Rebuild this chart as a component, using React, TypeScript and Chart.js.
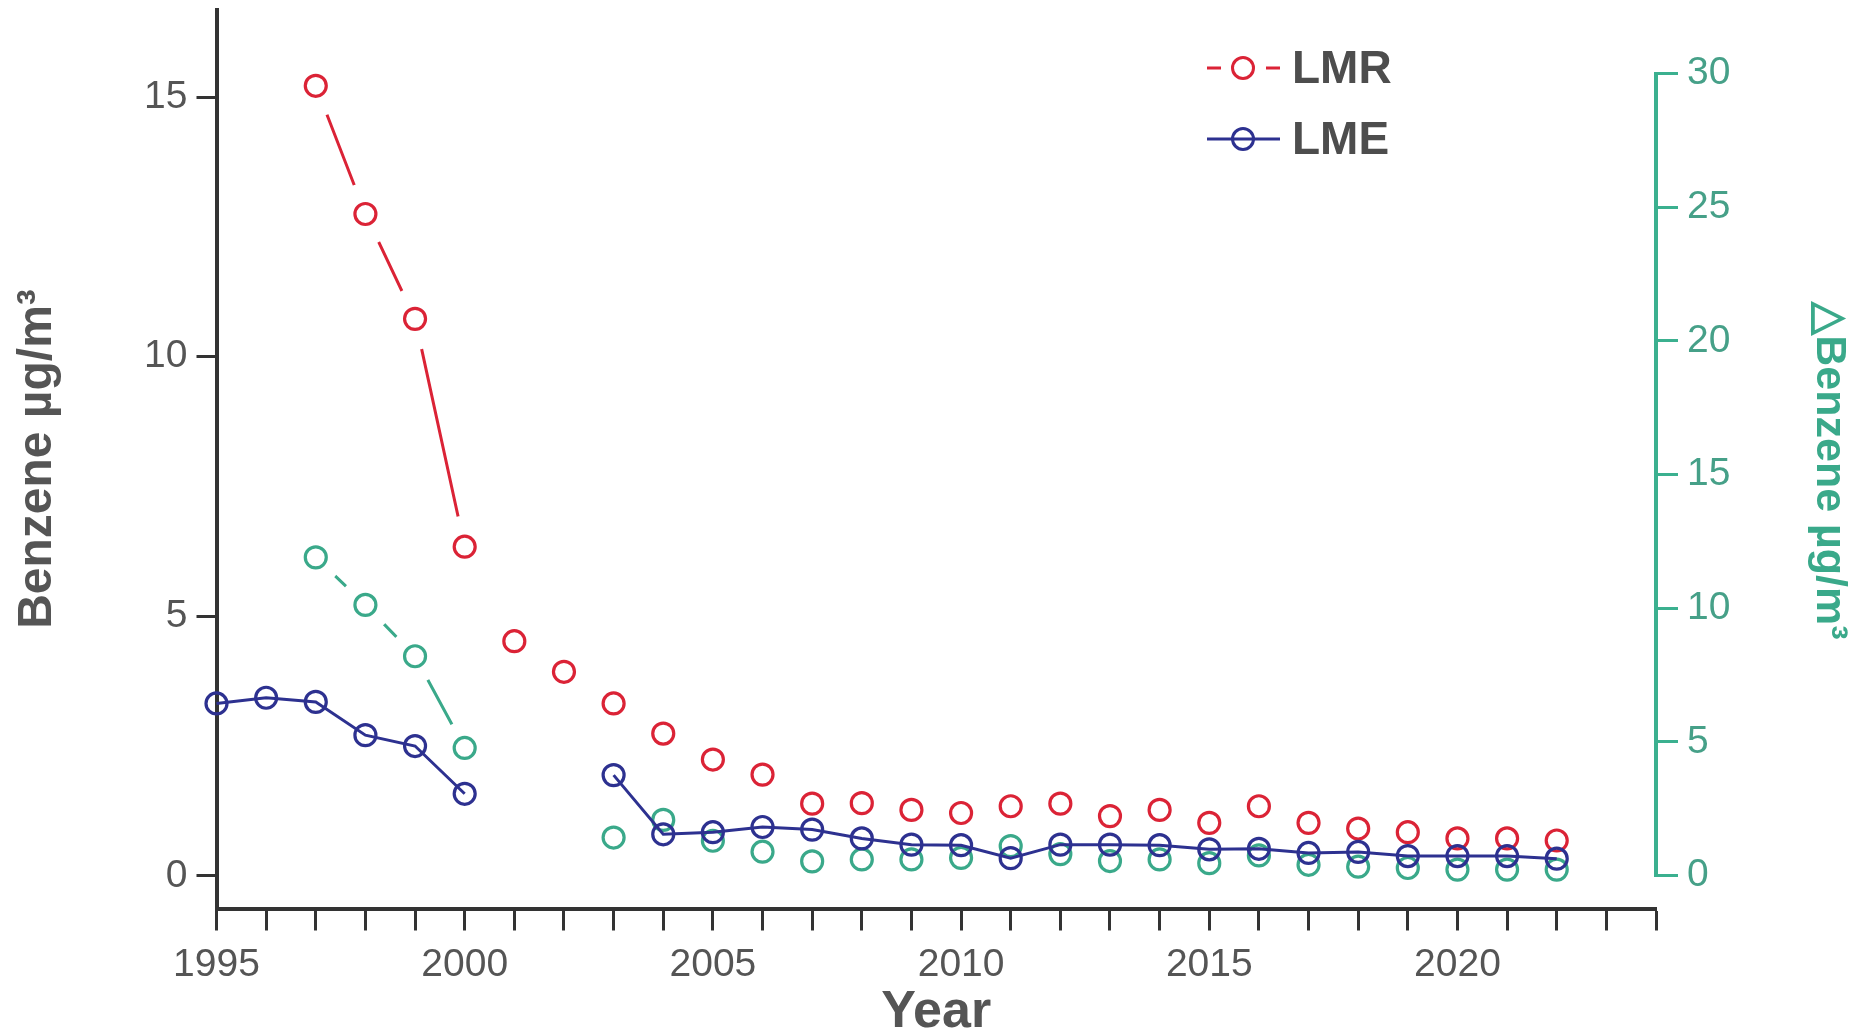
import React, { useEffect, useRef } from 'react';
import { Chart, registerables } from 'chart.js';

Chart.register(...registerables);

// ---- data ----
const years = [1995, 1996, 1997, 1998, 1999, 2000, 2001, 2002, 2003, 2004, 2005, 2006, 2007, 2008,
  2009, 2010, 2011, 2012, 2013, 2014, 2015, 2016, 2017, 2018, 2019, 2020, 2021, 2022];

const lmr = [null, null, 15.22, 12.75, 10.73, 6.34, 4.52, 3.93, 3.32, 2.74, 2.24, 1.95, 1.39, 1.40,
  1.27, 1.21, 1.34, 1.39, 1.15, 1.27, 1.02, 1.34, 1.02, 0.91, 0.84, 0.72, 0.72, 0.68];

const lme = [3.32, 3.43, 3.35, 2.71, 2.50, 1.58, null, null, 1.94, 0.80, 0.84, 0.94, 0.89, 0.72,
  0.60, 0.59, 0.34, 0.60, 0.60, 0.59, 0.51, 0.52, 0.44, 0.46, 0.38, 0.38, 0.38, 0.33];

const deltaBenzene = [null, null, 11.9, 10.12, 8.2, 4.77, null, null, 1.42, 2.08, 1.3, 0.89, 0.53, 0.6,
  0.6, 0.66, 1.1, 0.8, 0.54, 0.6, 0.46, 0.75, 0.4, 0.33, 0.28, 0.22, 0.22, 0.22];

const xLabelYears = [1995, 2000, 2005, 2010, 2015, 2020];
const xTickYears = [1995, 1996, 1997, 1998, 1999, 2000, 2001, 2002, 2003, 2004, 2005, 2006, 2007, 2008,
  2009, 2010, 2011, 2012, 2013, 2014, 2015, 2016, 2017, 2018, 2019, 2020, 2021, 2022, 2023, 2024];
const leftTicks = [0, 5, 10, 15];
const rightTicks = [0, 5, 10, 15, 20, 25, 30];
const lineUntilYear = 2000; // LMR and ΔBenzene joined only up to here

// ---- style ----
const RED = '#db2336';
const BLUE = '#2d3190';
const GREEN = '#3aa98a';
const TEAL_AXIS = '#3bb08f';
const TEAL_TEXT = '#46a088';
const AXIS = '#333333';
const TEXT = '#555555';
const FONT = '"Liberation Sans", Arial, sans-serif';
const TITLE_FONT = '"Liberation Sans Narrow", "Liberation Sans", Arial, sans-serif';

const pts = (arr: (number | null)[]) => years.map((x, i) => ({ x, y: arr[i] }));
const linedPts = (arr: (number | null)[]) =>
  years.map((x, i) => ({ x, y: x <= lineUntilYear ? arr[i] : null }));

const rightAxisLine = {
  id: 'rightAxisLine',
  beforeDatasetsDraw(chart: any) {
    const s = chart.scales.y2;
    const { ctx, chartArea } = chart;
    const y0 = s.getPixelForValue(rightTicks[0]);
    const y1 = s.getPixelForValue(rightTicks[rightTicks.length - 1]);
    ctx.save();
    ctx.strokeStyle = TEAL_AXIS;
    ctx.lineWidth = 4;
    ctx.beginPath();
    ctx.moveTo(chartArea.right, y0 + 1.5);
    ctx.lineTo(chartArea.right, y1 - 1.5);
    ctx.stroke();
    ctx.restore();
  },
};

const customLegend = {
  id: 'customLegend',
  afterDraw(chart: any) {
    const { ctx } = chart;
    const items = [
      { label: 'LMR', color: RED, gapped: true, y: 68 },
      { label: 'LME', color: BLUE, gapped: false, y: 139 },
    ];
    ctx.save();
    items.forEach((it) => {
      const x0 = 1207, x1 = 1280, cx = 1243;
      ctx.strokeStyle = it.color;
      ctx.lineWidth = 3;
      ctx.beginPath();
      if (it.gapped) {
        ctx.moveTo(x0, it.y); ctx.lineTo(x0 + 14, it.y);
        ctx.moveTo(x1 - 14, it.y); ctx.lineTo(x1, it.y);
      } else {
        ctx.moveTo(x0, it.y); ctx.lineTo(x1, it.y);
      }
      ctx.stroke();
      ctx.beginPath();
      ctx.arc(cx, it.y, 10.5, 0, Math.PI * 2);
      ctx.stroke();
      ctx.fillStyle = '#4d4d4d';
      ctx.font = `bold 46px ${FONT}`;
      ctx.textBaseline = 'middle';
      ctx.textAlign = 'left';
      ctx.fillText(it.label, 1292, it.y + 2);
    });
    ctx.restore();
  },
};

export default function App() {
  const ref = useRef<HTMLCanvasElement | null>(null);

  useEffect(() => {
    document.body.style.margin = '0';
    const canvas = ref.current;
    if (!canvas) return;

    const marker = (color: string) => ({
      showLine: false,
      pointRadius: 10.5,
      pointHoverRadius: 10.5,
      pointBorderWidth: 3.2,
      pointBorderColor: color,
      pointBackgroundColor: 'rgba(0,0,0,0)',
      clip: false,
    });
    const halo = (r: number) => ({
      showLine: false,
      pointRadius: r,
      pointHoverRadius: r,
      pointBorderWidth: 0,
      pointBorderColor: '#ffffff',
      pointBackgroundColor: '#ffffff',
    });

    const chart = new Chart(canvas, {
      type: 'line',
      data: {
        datasets: [
          {
            label: 'LMR line', data: linedPts(lmr), yAxisID: 'y', borderColor: RED, borderWidth: 3,
            pointRadius: 0, spanGaps: false, order: 10,
          },
          { label: 'LMR halo', data: linedPts(lmr), yAxisID: 'y', ...halo(31), order: 9 },
          {
            label: 'ΔBenzene line', data: linedPts(deltaBenzene), yAxisID: 'y2', borderColor: GREEN,
            borderWidth: 3, pointRadius: 0, spanGaps: false, order: 8,
          },
          { label: 'ΔBenzene halo', data: linedPts(deltaBenzene), yAxisID: 'y2', ...halo(27), order: 7 },
          { label: 'ΔBenzene', data: pts(deltaBenzene), yAxisID: 'y2', ...marker(GREEN), order: 5 },
          { label: 'LMR', data: pts(lmr), yAxisID: 'y', ...marker(RED), order: 4 },
          {
            label: 'LME', data: pts(lme), yAxisID: 'y', borderColor: BLUE, borderWidth: 3,
            spanGaps: false, ...marker(BLUE), showLine: true, order: 3,
          },
        ] as any,
      },
      options: {
        responsive: false,
        maintainAspectRatio: false,
        devicePixelRatio: 1,
        animation: false,
        events: [],
        layout: { autoPadding: false, padding: { top: 9.5, left: 0, right: 0, bottom: 0 } },
        plugins: { legend: { display: false }, tooltip: { enabled: false } },
        scales: {
          x: {
            type: 'linear',
            min: 1995,
            max: 2024,
            afterBuildTicks: (s: any) => { s.ticks = xTickYears.map((v) => ({ value: v })); },
            afterFit: (s: any) => { s.height = 124.5; s.paddingLeft = 0; s.paddingRight = 0; },
            ticks: {
              autoSkip: false,
              maxRotation: 0,
              padding: 11,
              color: TEXT,
              font: { family: FONT, size: 39 },
              callback: (v: any) => (xLabelYears.includes(Number(v)) ? String(v) : ''),
            },
            grid: { drawOnChartArea: false, drawTicks: true, tickLength: 22, tickWidth: 3, tickColor: AXIS },
            border: { display: true, color: AXIS, width: 4 },
            title: {
              display: true, text: 'Year', color: TEXT,
              font: { family: TITLE_FONT, size: 52, weight: 'bold', lineHeight: 1 },
              padding: { top: 0, bottom: -6 },
            },
          },
          y: {
            type: 'linear',
            position: 'left',
            min: -0.63,
            max: 16.69,
            afterBuildTicks: (s: any) => { s.ticks = leftTicks.map((v) => ({ value: v })); },
            afterFit: (s: any) => { s.width = 216.5; s.paddingTop = 0; s.paddingBottom = 0; },
            ticks: { padding: 9, color: TEXT, font: { family: FONT, size: 39 } },
            grid: { drawOnChartArea: false, drawTicks: true, tickLength: 20, tickWidth: 3, tickColor: AXIS },
            border: { display: true, color: AXIS, width: 4 },
            title: {
              display: true, text: 'Benzene µg/m³', color: TEXT,
              font: { family: TITLE_FONT, size: 48, weight: 'bold', lineHeight: 1 },
              padding: { top: 14, bottom: 0 },
            },
          },
          y2: {
            type: 'linear',
            position: 'right',
            min: -1.234,
            max: 32.39,
            afterBuildTicks: (s: any) => { s.ticks = rightTicks.map((v) => ({ value: v })); },
            afterFit: (s: any) => { s.width = 199; s.paddingTop = 0; s.paddingBottom = 0; },
            ticks: { padding: 9, color: TEAL_TEXT, font: { family: FONT, size: 39 } },
            grid: { drawOnChartArea: false, drawTicks: true, tickLength: 22, tickWidth: 3, tickColor: TEAL_AXIS },
            border: { display: false },
            title: {
              display: true, text: '  △Benzene µg/m³', color: GREEN,
              font: { family: TITLE_FONT, size: 43, weight: 'bold', lineHeight: 1 },
              padding: { top: 5, bottom: 0 },
            },
          },
        },
      } as any,
      plugins: [rightAxisLine, customLegend],
    });

    return () => chart.destroy();
  }, []);

  return (
    <div style={{ width: 1855, height: 1033, background: '#ffffff' }}>
      <canvas ref={ref} width={1855} height={1033} style={{ display: 'block', width: 1855, height: 1033 }} />
    </div>
  );
}
